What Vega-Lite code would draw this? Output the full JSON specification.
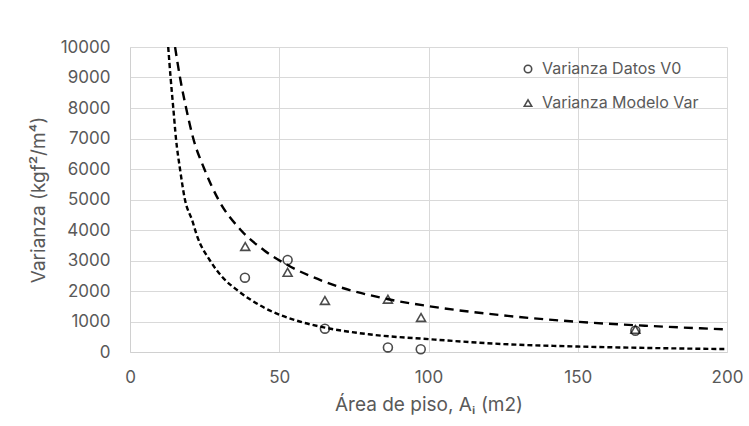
{
  "$schema": "https://vega.github.io/schema/vega-lite/v6.json",
  "width": 597,
  "height": 305,
  "autosize": {"type": "none"},
  "padding": {"left": 130, "top": 47, "right": 22, "bottom": 74},
  "background": "white",
  "config": {
    "font": "Inter",
    "view": {"stroke": null},
    "axis": {
      "gridColor": "#d9d9d9",
      "gridWidth": 1,
      "domainColor": "#d0d0d0",
      "domainWidth": 1,
      "ticks": false,
      "labelColor": "#595959",
      "labelFont": "Inter",
      "labelFontSize": 17,
      "labelOverlap": false,
      "labelFlush": false,
      "titleColor": "#595959",
      "titleFont": "Inter",
      "titleFontSize": 19,
      "titleFontWeight": "normal"
    },
    "legend": {
      "labelColor": "#595959",
      "labelFont": "Inter",
      "labelFontSize": 16
    }
  },
  "datasets": {
    "points": [
      {"area": 38.5, "varianza": 2437, "serie": "Varianza Datos V0"},
      {"area": 52.8, "varianza": 3016, "serie": "Varianza Datos V0"},
      {"area": 65.3, "varianza": 765, "serie": "Varianza Datos V0"},
      {"area": 86.4, "varianza": 150, "serie": "Varianza Datos V0"},
      {"area": 97.4, "varianza": 90, "serie": "Varianza Datos V0"},
      {"area": 169.3, "varianza": 700, "serie": "Varianza Datos V0"},
      {"area": 38.6, "varianza": 3460, "serie": "Varianza Modelo Var"},
      {"area": 52.8, "varianza": 2613, "serie": "Varianza Modelo Var"},
      {"area": 65.3, "varianza": 1690, "serie": "Varianza Modelo Var"},
      {"area": 86.4, "varianza": 1730, "serie": "Varianza Modelo Var"},
      {"area": 97.5, "varianza": 1130, "serie": "Varianza Modelo Var"},
      {"area": 169.3, "varianza": 740, "serie": "Varianza Modelo Var"}
    ],
    "lower": [
      {"area": 12.8, "varianza": 10000},
      {"area": 13.6, "varianza": 9000},
      {"area": 14.5, "varianza": 8000},
      {"area": 15.4, "varianza": 7000},
      {"area": 16.75, "varianza": 6000},
      {"area": 18.4, "varianza": 5000},
      {"area": 20.9, "varianza": 4300},
      {"area": 22.3, "varianza": 3850},
      {"area": 26.8, "varianza": 3000},
      {"area": 31, "varianza": 2450},
      {"area": 36.3, "varianza": 2000},
      {"area": 45, "varianza": 1450},
      {"area": 56.8, "varianza": 1000},
      {"area": 65.3, "varianza": 800},
      {"area": 80, "varianza": 580},
      {"area": 100.3, "varianza": 420},
      {"area": 125, "varianza": 260},
      {"area": 150, "varianza": 180},
      {"area": 175, "varianza": 130},
      {"area": 200, "varianza": 95}
    ],
    "upper": [
      {"area": 15.1, "varianza": 10000},
      {"area": 16.75, "varianza": 9000},
      {"area": 18.8, "varianza": 8000},
      {"area": 21.2, "varianza": 7000},
      {"area": 24.9, "varianza": 6000},
      {"area": 29.6, "varianza": 5000},
      {"area": 37.1, "varianza": 4000},
      {"area": 45, "varianza": 3330},
      {"area": 52.8, "varianza": 2850},
      {"area": 65, "varianza": 2310},
      {"area": 86.5, "varianza": 1730},
      {"area": 100.3, "varianza": 1500},
      {"area": 125, "varianza": 1200},
      {"area": 150, "varianza": 990},
      {"area": 175, "varianza": 850},
      {"area": 200, "varianza": 740}
    ]
  },
  "encoding": {
    "x": {"field": "area", "type": "quantitative", "scale": {"domain": [0, 200], "nice": false},
      "axis": {"values": [0, 50, 100, 150, 200], "title": "Área de piso, Aᵢ (m2)", "labelPadding": 17, "titlePadding": 10}},
    "y": {"field": "varianza", "type": "quantitative", "scale": {"domain": [0, 10000], "nice": false},
      "axis": {"values": [0, 1000, 2000, 3000, 4000, 5000, 6000, 7000, 8000, 9000, 10000], "tickCount": 11, "format": "d", "title": "Varianza (kgf²/m⁴)", "labelPadding": 20, "titlePadding": 12}}
  },
  "layer": [
    {
      "data": {"name": "lower"},
      "mark": {"type": "line", "color": "black", "strokeWidth": 2.4, "strokeDash": [5, 3], "interpolate": "monotone", "clip": true}
    },
    {
      "data": {"name": "upper"},
      "mark": {"type": "line", "color": "black", "strokeWidth": 2.4, "strokeDash": [9, 6], "interpolate": "monotone", "clip": true}
    },
    {
      "data": {"name": "points"},
      "mark": {"type": "point", "filled": false, "stroke": "black", "strokeWidth": 1.6, "size": 80},
      "encoding": {
        "shape": {"field": "serie", "type": "nominal",
          "scale": {"domain": ["Varianza Datos V0", "Varianza Modelo Var"], "range": ["circle", "triangle-up"]},
          "legend": {"title": null, "orient": "none", "legendX": 390, "legendY": 14, "rowPadding": 18, "symbolSize": 55, "symbolStrokeWidth": 1.6, "symbolStrokeColor": "black", "symbolFillColor": "transparent", "labelOffset": 6}}
      }
    }
  ]
}
